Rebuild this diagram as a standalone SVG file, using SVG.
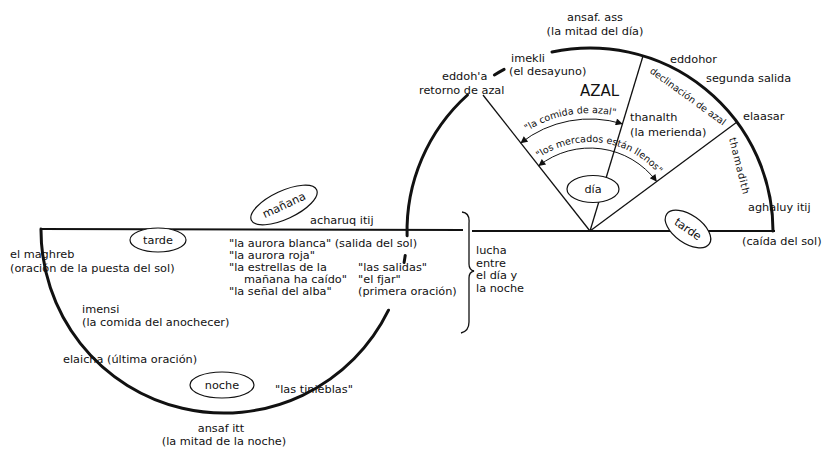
<svg xmlns="http://www.w3.org/2000/svg" width="828" height="449" viewBox="0 0 828 449">
<style>
text { font-family: "DejaVu Sans", "Liberation Sans", sans-serif; font-size: 11.3px; fill: #111; }
.sm { font-size: 9.5px; }
.big { font-size: 15px; }
.mid { text-anchor: middle; }
.thick { fill: none; stroke: #111; stroke-width: 3; stroke-linecap: round; }
.hline { fill: none; stroke: #111; stroke-width: 2; }
.thin { fill: none; stroke: #111; stroke-width: 1.3; }
.arr { fill: none; stroke: #111; stroke-width: 1; }
.node { fill: #fff; stroke: #111; stroke-width: 1.2; }
</style>
<defs>
<marker id="ah" viewBox="0 0 10 10" refX="9.5" refY="5" markerWidth="9" markerHeight="7" markerUnits="userSpaceOnUse" orient="auto-start-reverse">
<path d="M0,0 L10,5 L0,10 Z" fill="#111"/>
</marker>
<path id="tp1" d="M514.2,140.6 A118,118 0 0 1 630.4,120.1"/>
<path id="tp2" d="M531.6,163.8 A89,89 0 0 1 663.8,181.2"/>
</defs>

<g id="connectors">
<path class="hline" d="M41,229 L463,230"/>
<path class="hline" d="M472,231 L775,231"/>
<path class="thick" d="M552,52 A183,183 0 0 1 773,231"/>
<path class="thick" d="M494.4,75 A183,183 0 0 1 504.1,69.4"/>
<path class="thick" d="M467.5,95 A183,183 0 0 0 407.1,235.8"/>
<path class="thick" d="M41,229 A183,183 0 0 0 388.5,310.2"/>
<path class="thick" d="M405.2,255.5 A183,183 0 0 1 404.1,262.4"/>
<path class="thin" d="M590,231 L483,95"/>
<path class="thin" d="M590,231 L643,56"/>
<path class="thin" d="M590,231 L737,122"/>
<path class="arr" d="M520.7,143 A112,112 0 0 1 622.4,123.8" marker-start="url(#ah)" marker-end="url(#ah)"/>
<path class="arr" d="M538.7,165.8 A83,83 0 0 1 656.6,181.5" marker-start="url(#ah)" marker-end="url(#ah)"/>
<path class="thin" d="M462,212 Q470,213 469,223 L469,264 Q469,270 474,271 Q469,272 469,278 L469,322 Q469,331 461,333"/>
</g>

<g id="node-ansaf-ass"><text class="mid" x="595" y="21">ansaf. ass</text><text class="mid" x="595" y="35">(la mitad del día)</text></g>
<g id="node-imekli"><text x="511" y="62">imekli</text><text x="509" y="75">(el desayuno)</text></g>
<g id="node-eddoha"><text x="442" y="80">eddoh'a</text><text x="419" y="94">retorno de azal</text></g>
<g id="node-azal"><text class="big" x="580" y="96">AZAL</text></g>
<g id="node-eddohor"><text x="670" y="63">eddohor</text></g>
<g id="node-segunda"><text x="706" y="82">segunda salida</text></g>
<g id="node-elaasar"><text x="743" y="120">elaasar</text></g>
<g id="node-thanalth"><text x="630" y="121">thanalth</text><text x="630" y="135.5">(la merienda)</text></g>
<g id="node-declinacion"><text class="sm mid" transform="translate(686,99) rotate(36)">declinación de azal</text></g>
<g id="node-thamadith"><text class="mid" style="font-size:10px;letter-spacing:0.8px" transform="translate(736,167) rotate(76)">thamadith</text></g>
<g id="node-comida-azal"><text class="sm"><textPath href="#tp1" startOffset="50%" text-anchor="middle">"la comida de azal"</textPath></text></g>
<g id="node-mercados"><text class="sm"><textPath href="#tp2" startOffset="50%" text-anchor="middle">"los mercados están llenos"</textPath></text></g>
<g id="node-dia"><ellipse class="node" cx="593" cy="189" rx="26" ry="13.5"/><text class="mid" x="593" y="193">día</text></g>
<g id="node-tarde-right"><g transform="translate(688,229) rotate(35)"><ellipse class="node" cx="0" cy="0" rx="26" ry="14"/><text class="mid" x="0" y="4">tarde</text></g></g>
<g id="node-aghaluy"><text x="748" y="211">aghaluy itij</text><text x="742" y="245">(caída del sol)</text></g>
<g id="node-manana"><g transform="translate(284,205) rotate(-25)"><ellipse class="node" cx="0" cy="0" rx="36" ry="14"/><text class="mid" x="0" y="4">mañana</text></g></g>
<g id="node-acharuq"><text x="310" y="224">acharuq itij</text></g>
<g id="node-aurora">
<text x="229" y="247">"la aurora blanca" (salida del sol)</text>
<text x="229" y="259">"la aurora roja"</text>
<text x="229" y="271">"la estrellas de la</text>
<text x="244" y="283">mañana ha caído"</text>
<text x="229" y="295">"la señal del alba"</text>
<text x="358" y="271">"las salidas"</text>
<text x="358" y="283">"el fjar"</text>
<text x="358" y="295">(primera oración)</text>
</g>
<g id="node-lucha"><text x="476" y="254">lucha</text><text x="476" y="266.5">entre</text><text x="476" y="279">el día y</text><text x="476" y="291.5">la noche</text></g>
<g id="node-tarde-left"><ellipse class="node" cx="158" cy="240" rx="28" ry="12"/><text class="mid" x="158" y="244">tarde</text></g>
<g id="node-maghreb"><text x="10" y="258">el maghreb</text><text x="10" y="272">(oración de la puesta del sol)</text></g>
<g id="node-imensi"><text x="82" y="313">imensi</text><text x="82" y="326">(la comida del anochecer)</text></g>
<g id="node-elaicha"><text x="63" y="363">elaicha (última oración)</text></g>
<g id="node-noche"><ellipse class="node" cx="222" cy="385" rx="32" ry="13"/><text class="mid" x="222" y="389">noche</text></g>
<g id="node-tinieblas"><text x="275" y="393">"las tinieblas"</text></g>
<g id="node-ansaf-itt"><text class="mid" x="221" y="432">ansaf itt</text><text class="mid" x="224" y="445">(la mitad de la noche)</text></g>
</svg>
